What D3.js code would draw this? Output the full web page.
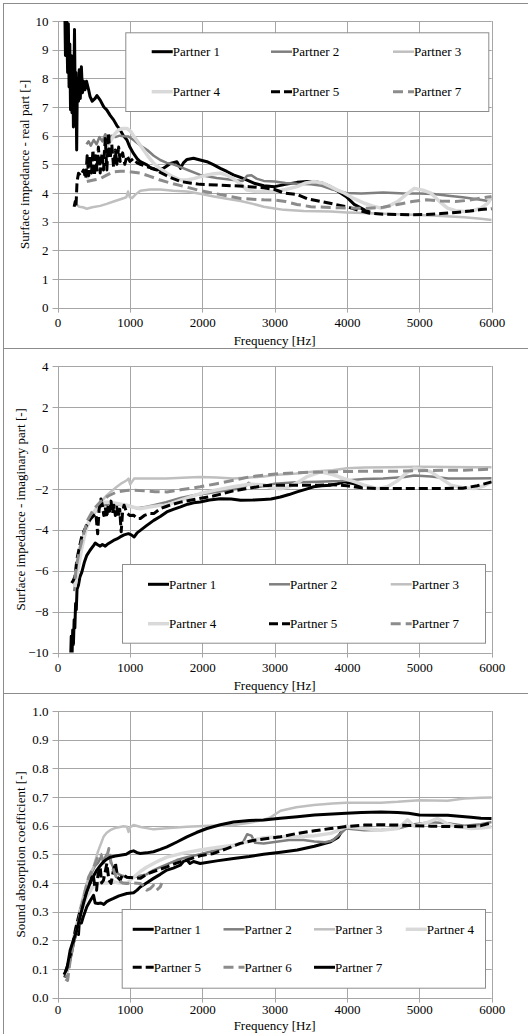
<!DOCTYPE html>
<html>
<head>
<meta charset="utf-8">
<script src="https://cdn.jsdelivr.net/npm/d3@7/dist/d3.min.js"></script>
<style>
  body { margin: 0; background: #fff; }
</style>
</head>
<body>
<div id="chart"></div>
<script>
// tick values
const freqTicks = [0, 1000, 2000, 3000, 4000, 5000, 6000];
const realTicks = [0, 1, 2, 3, 4, 5, 6, 7, 8, 9, 10];
const imagTicks = [-10, -8, -6, -4, -2, 0, 2, 4];
const absTicks = [0, 0.1, 0.2, 0.3, 0.4, 0.5, 0.6, 0.7, 0.8, 0.9, 1.0];

// Surface impedance - real part  [frequency Hz, value]
const reP1 = [[100,10.6],[110,8.8],[125,10.2],[140,8.2],[150,9.9],[160,7.7],[170,9.2],[180,6.9],[190,8.8],[200,6.8],[210,8.6],[220,6.3],[235,9.7],[245,7.0],[255,8.2],[265,5.5],[275,8.0],[290,7.2],[300,8.3],[315,7.3],[330,8.4],[345,7.5],[360,7.9],[380,7.6],[400,7.9],[430,7.6],[450,7.36],[480,7.2],[520,7.3],[545,7.4],[590,7.24],[640,7.0],[680,6.9],[730,6.7],[775,6.55],[820,6.35],[866,6.2],[910,6.0],[960,5.85],[1000,5.6],[1050,5.38],[1100,5.2],[1145,5.09],[1235,4.98],[1300,4.85],[1375,4.8],[1465,4.86],[1560,5.03],[1650,5.09],[1700,4.86],[1740,5.05],[1790,5.17],[1880,5.21],[1970,5.15],[2065,5.09],[2160,4.98],[2250,4.86],[2340,4.75],[2430,4.63],[2520,4.55],[2620,4.45],[2730,4.33],[2850,4.25],[3000,4.22],[3150,4.3],[3310,4.37],[3450,4.4],[3540,4.4],[3650,4.35],[3775,4.22],[3880,4.05],[3990,3.87],[4100,3.6],[4240,3.41],[4320,3.33]];
const reP2 = [[400,5.7],[430,5.8],[460,5.65],[500,5.85],[540,5.7],[580,5.95],[620,5.8],[660,6.05],[700,5.9],[750,6.0],[800,5.95],[860,6.0],[920,5.98],[980,5.97],[1050,5.85],[1150,5.65],[1240,5.5],[1330,5.3],[1420,5.15],[1510,5.05],[1600,5.0],[1700,4.9],[1800,4.8],[1970,4.63],[2200,4.52],[2430,4.45],[2560,4.42],[2620,4.6],[2680,4.62],[2750,4.5],[2850,4.42],[3000,4.4],[3150,4.35],[3310,4.32],[3500,4.3],[3650,4.25],[3800,4.12],[3990,4.0],[4200,3.98],[4500,4.02],[4800,3.98],[5000,3.98],[5200,3.96],[5400,3.9],[5600,3.85],[5800,3.78],[5950,3.72],[6000,3.8]];
const reP3 = [[270,3.58],[300,3.52],[350,3.5],[405,3.45],[480,3.5],[590,3.55],[680,3.62],[775,3.7],[870,3.78],[950,3.85],[975,4.05],[1000,3.85],[1030,3.82],[1080,3.95],[1145,4.08],[1280,4.12],[1420,4.12],[1600,4.08],[1790,4.05],[1970,3.97],[2160,3.88],[2340,3.8],[2530,3.72],[2700,3.62],[2850,3.52],[3000,3.46],[3130,3.41],[3400,3.37],[3775,3.35],[4000,3.32],[4240,3.3],[4600,3.27],[4930,3.24],[5300,3.2],[5620,3.15],[5850,3.1],[6000,3.06]];
const reP4 = [[405,4.5],[470,4.75],[545,5.0],[590,5.2],[636,5.4],[680,5.6],[728,5.8],[790,6.05],[843,6.2],[900,6.25],[960,6.25],[1010,6.15],[1050,6.0],[1120,5.75],[1190,5.5],[1260,5.25],[1330,5.03],[1420,4.85],[1510,4.69],[1600,4.56],[1700,4.45],[1790,4.45],[1880,4.5],[1970,4.56],[2065,4.63],[2160,4.67],[2250,4.69],[2340,4.62],[2430,4.5],[2530,4.3],[2620,4.1],[2750,4.05],[2850,4.05],[3000,4.05],[3150,4.12],[3310,4.22],[3430,4.35],[3540,4.4],[3660,4.35],[3775,4.22],[3870,4.1],[3960,4.0],[4100,3.8],[4240,3.64],[4350,3.55],[4470,3.47],[4580,3.55],[4700,3.7],[4820,3.95],[4930,4.16],[5050,4.1],[5160,3.99],[5280,3.7],[5390,3.47],[5500,3.38],[5620,3.35],[5740,3.38],[5850,3.47],[5950,3.65],[6000,3.87]];
const reP5 = [[230,3.52],[245,3.7],[255,3.5],[270,4.4],[290,4.69],[320,4.6],[360,4.8],[390,4.5],[410,5.3],[430,4.6],[450,5.3],[470,4.7],[490,5.5],[510,4.6],[530,5.3],[545,4.8],[565,5.6],[590,4.7],[615,5.4],[636,4.8],[660,5.9],[682,4.8],[705,6.1],[728,5.2],[750,5.7],[775,4.9],[800,5.5],[820,5.0],[845,5.6],[866,5.1],[900,5.4],[930,5.0],[960,5.3],[1000,5.1],[1050,5.2],[1100,5.05],[1145,5.0],[1230,4.92],[1330,4.85],[1420,4.72],[1510,4.6],[1600,4.5],[1700,4.4],[1830,4.35],[1970,4.3],[2200,4.28],[2430,4.25],[2650,4.22],[2850,4.18],[3000,4.12],[3130,4.0],[3310,3.95],[3450,3.8],[3650,3.7],[3800,3.62],[4000,3.52],[4150,3.4],[4300,3.3],[4500,3.26],[4700,3.25],[4900,3.24],[5100,3.25],[5300,3.28],[5500,3.32],[5700,3.37],[5850,3.42],[6000,3.45]];
const reP7 = [[405,4.4],[500,4.45],[590,4.5],[680,4.62],[775,4.74],[870,4.76],[960,4.75],[1050,4.72],[1145,4.69],[1280,4.58],[1420,4.45],[1600,4.32],[1790,4.2],[1970,4.08],[2160,3.99],[2340,3.9],[2530,3.81],[2700,3.78],[2850,3.76],[3000,3.75],[3150,3.7],[3310,3.6],[3500,3.52],[3700,3.5],[3900,3.48],[4100,3.47],[4300,3.47],[4500,3.5],[4700,3.6],[4900,3.7],[5100,3.76],[5300,3.72],[5500,3.7],[5700,3.75],[5850,3.82],[6000,3.88]];

// Surface impedance - imaginary part
const imP1 = [[180,-10.5],[190,-9.2],[200,-10.3],[210,-8.9],[220,-9.6],[230,-8.4],[240,-8.8],[250,-7.6],[260,-7.9],[270,-6.9],[290,-6.7],[310,-6.3],[336,-6.07],[370,-5.6],[405,-5.25],[450,-5.0],[500,-4.76],[521,-4.65],[550,-4.72],[590,-4.8],[620,-4.72],[660,-4.8],[700,-4.68],[774,-4.52],[820,-4.45],[866,-4.35],[920,-4.25],[980,-4.19],[1020,-4.25],[1060,-4.35],[1100,-4.15],[1145,-4.03],[1230,-3.8],[1330,-3.54],[1420,-3.35],[1510,-3.13],[1600,-3.0],[1700,-2.88],[1800,-2.75],[1880,-2.68],[1970,-2.64],[2100,-2.55],[2250,-2.48],[2400,-2.5],[2530,-2.56],[2700,-2.55],[2850,-2.52],[2950,-2.5],[3080,-2.4],[3200,-2.28],[3310,-2.15],[3450,-2.0],[3540,-1.9],[3650,-1.85],[3775,-1.82],[3870,-1.75],[3960,-1.66],[4100,-1.75],[4200,-1.9]];
const imP2 = [[230,-7.0],[260,-6.2],[300,-5.2],[350,-4.4],[400,-3.9],[450,-3.5],[500,-3.2],[550,-3.0],[600,-2.85],[700,-2.75],[800,-2.75],[900,-2.8],[1000,-2.85],[1100,-2.95],[1200,-2.9],[1330,-2.8],[1500,-2.65],[1700,-2.45],[1900,-2.3],[2100,-2.2],[2300,-2.1],[2500,-2.0],[2580,-1.95],[2640,-1.7],[2700,-1.85],[2800,-1.9],[3000,-1.75],[3300,-1.68],[3600,-1.65],[3900,-1.62],[4240,-1.52],[4500,-1.5],[4800,-1.42],[4930,-1.35],[5160,-1.4],[5400,-1.5],[5700,-1.5],[6000,-1.48]];
const imP3 = [[230,-6.7],[260,-6.0],[300,-5.3],[350,-4.4],[405,-3.9],[470,-3.4],[544,-3.0],[610,-2.6],[682,-2.31],[750,-2.1],[820,-1.9],[890,-1.72],[959,-1.58],[982,-1.5],[1005,-1.78],[1030,-1.65],[1060,-1.5],[1200,-1.5],[1500,-1.5],[1800,-1.45],[1970,-1.42],[2200,-1.45],[2430,-1.5],[2650,-1.45],[2850,-1.4],[3000,-1.33],[3300,-1.25],[3550,-1.15],[3800,-1.09],[4000,-1.0],[4240,-0.96],[4600,-0.94],[5000,-0.92],[5400,-0.93],[5800,-0.94],[6000,-0.94]];
const imP4 = [[240,-6.8],[280,-6.0],[330,-5.0],[380,-4.2],[430,-3.6],[490,-3.2],[540,-2.95],[590,-2.8],[650,-2.65],[720,-2.65],[800,-2.7],[880,-2.75],[960,-2.8],[1050,-2.9],[1145,-2.97],[1250,-2.9],[1400,-2.82],[1510,-2.8],[1700,-2.55],[1970,-2.23],[2200,-2.05],[2430,-1.9],[2650,-1.78],[2850,-1.8],[2950,-1.95],[3080,-2.0],[3200,-1.9],[3314,-1.7],[3450,-1.4],[3637,-1.17],[3800,-1.3],[3960,-1.5],[4100,-1.65],[4240,-1.82],[4424,-1.99],[4560,-1.9],[4700,-1.6],[4830,-1.2],[4931,-1.0],[5050,-1.05],[5161,-1.17],[5300,-1.5],[5437,-1.82],[5600,-1.95],[5760,-1.99],[5900,-1.85],[6000,-1.66]];
const imP5 = [[195,-6.6],[215,-6.5],[240,-6.3],[270,-5.4],[300,-4.9],[330,-4.4],[360,-4.1],[400,-3.8],[450,-3.5],[500,-3.3],[530,-3.2],[555,-4.2],[575,-3.0],[600,-2.5],[620,-2.8],[640,-3.3],[660,-2.9],[680,-3.4],[700,-2.8],[720,-3.1],[740,-2.6],[760,-3.2],[780,-2.8],[800,-3.3],[820,-2.9],[840,-3.4],[860,-3.0],[880,-4.1],[900,-3.1],[920,-2.8],[960,-3.2],[1000,-3.3],[1050,-3.29],[1100,-3.45],[1145,-3.45],[1200,-3.3],[1280,-3.2],[1330,-3.21],[1420,-2.97],[1510,-2.85],[1600,-2.75],[1700,-2.65],[1850,-2.55],[2000,-2.45],[2150,-2.35],[2300,-2.22],[2430,-2.1],[2600,-2.0],[2850,-1.85],[3000,-1.82],[3300,-1.82],[3600,-1.82],[3800,-1.8],[4000,-1.85],[4200,-1.95],[4400,-1.99],[4700,-1.99],[5000,-1.99],[5300,-1.98],[5600,-1.97],[5800,-1.85],[6000,-1.66]];
const imP7 = [[240,-6.4],[270,-5.6],[310,-4.9],[360,-4.2],[420,-3.5],[500,-3.0],[590,-2.64],[700,-2.35],[820,-2.15],[950,-2.08],[1051,-2.07],[1200,-2.1],[1350,-2.14],[1512,-2.15],[1700,-2.05],[1972,-1.9],[2200,-1.75],[2433,-1.58],[2650,-1.42],[2848,-1.33],[3100,-1.25],[3400,-1.2],[3775,-1.17],[4200,-1.14],[4700,-1.14],[5200,-1.1],[5622,-1.09],[6000,-1.04]];

// Sound absorption coefficient
const abP1 = [[100,0.07],[140,0.1],[180,0.14],[220,0.19],[267,0.235],[290,0.22],[310,0.3],[330,0.26],[360,0.285],[405,0.317],[450,0.337],[498,0.357],[520,0.33],[560,0.328],[600,0.33],[640,0.325],[680,0.335],[720,0.34],[774,0.346],[850,0.355],[959,0.363],[1051,0.366],[1100,0.375],[1143,0.386],[1230,0.4],[1327,0.416],[1420,0.43],[1512,0.445],[1600,0.452],[1696,0.462],[1740,0.475],[1788,0.48],[1830,0.468],[1880,0.475],[1972,0.468],[2200,0.477],[2433,0.485],[2650,0.492],[2848,0.5],[3083,0.507],[3314,0.515],[3550,0.528],[3775,0.544],[3880,0.56],[3950,0.59],[4000,0.6]];
const abP2 = [[110,0.07],[160,0.12],[210,0.18],[260,0.23],[320,0.29],[380,0.36],[430,0.41],[480,0.44],[520,0.46],[560,0.47],[600,0.49],[640,0.48],[680,0.5],[720,0.485],[760,0.46],[800,0.44],[850,0.43],[900,0.425],[960,0.42],[1051,0.42],[1143,0.425],[1230,0.43],[1327,0.445],[1420,0.455],[1512,0.465],[1650,0.48],[1788,0.49],[1972,0.5],[2200,0.515],[2433,0.53],[2560,0.54],[2620,0.57],[2680,0.565],[2730,0.54],[2848,0.538],[3000,0.543],[3200,0.55],[3400,0.55],[3550,0.545],[3700,0.542],[3800,0.548],[3900,0.57],[3987,0.59],[4240,0.584],[4470,0.585],[4700,0.59],[4930,0.605],[5161,0.612],[5391,0.608],[5622,0.6],[5850,0.605],[6000,0.613]];
const abP3 = [[90,0.08],[130,0.1],[180,0.16],[230,0.22],[267,0.26],[330,0.33],[405,0.4],[450,0.43],[498,0.456],[560,0.51],[636,0.561],[680,0.575],[728,0.584],[800,0.592],[912,0.598],[960,0.596],[982,0.578],[1005,0.595],[1051,0.602],[1150,0.595],[1327,0.587],[1550,0.592],[1788,0.596],[2100,0.6],[2433,0.602],[2650,0.61],[2848,0.62],[2950,0.63],[3083,0.652],[3300,0.664],[3544,0.672],[3800,0.677],[3987,0.68],[4200,0.68],[4470,0.68],[4700,0.683],[5000,0.689],[5200,0.688],[5391,0.687],[5622,0.695],[5850,0.697],[6000,0.698]];
const abP4 = [[120,0.08],[170,0.14],[220,0.2],[270,0.25],[330,0.3],[400,0.35],[470,0.38],[540,0.4],[600,0.4],[680,0.4],[760,0.405],[850,0.4],[960,0.4],[1051,0.42],[1143,0.44],[1230,0.455],[1327,0.468],[1420,0.48],[1512,0.49],[1750,0.505],[1972,0.515],[2200,0.524],[2433,0.532],[2650,0.545],[2848,0.558],[3083,0.561],[3314,0.561],[3550,0.565],[3775,0.573],[3900,0.585],[3987,0.596],[4240,0.59],[4470,0.584],[4700,0.59],[4839,0.62],[4930,0.598],[5000,0.603],[5100,0.61],[5253,0.625],[5400,0.605],[5500,0.598],[5714,0.59],[5850,0.592],[6000,0.596]];
const abP5 = [[110,0.09],[150,0.12],[200,0.17],[250,0.24],[300,0.29],[350,0.33],[400,0.37],[450,0.4],[480,0.43],[498,0.42],[520,0.38],[540,0.375],[560,0.43],[590,0.456],[610,0.4],[636,0.41],[660,0.44],[682,0.468],[710,0.41],[740,0.398],[770,0.44],[800,0.47],[830,0.42],[866,0.41],[900,0.43],[959,0.42],[1050,0.418],[1143,0.416],[1230,0.43],[1327,0.44],[1420,0.448],[1512,0.456],[1650,0.47],[1788,0.48],[1970,0.495],[2157,0.503],[2340,0.52],[2525,0.538],[2700,0.548],[2848,0.553],[3083,0.561],[3314,0.573],[3550,0.582],[3775,0.59],[4000,0.597],[4240,0.602],[4470,0.603],[4700,0.602],[4930,0.6],[5161,0.598],[5400,0.597],[5622,0.596],[5850,0.6],[6000,0.61]];
const abP6 = [[110,0.065],[140,0.06],[170,0.12],[220,0.19],[270,0.24],[320,0.3],[380,0.37],[430,0.42],[470,0.44],[510,0.46],[540,0.48],[570,0.5],[600,0.5],[640,0.47],[680,0.49],[710,0.52],[740,0.47],[780,0.44],[830,0.41],[900,0.4],[959,0.398],[1050,0.4],[1143,0.398],[1200,0.39],[1235,0.375],[1280,0.38],[1327,0.392],[1370,0.375],[1420,0.386],[1440,0.4]];
const abP7 = [[90,0.08],[130,0.1],[175,0.165],[220,0.2],[267,0.235],[310,0.28],[360,0.33],[405,0.37],[452,0.4],[500,0.425],[544,0.445],[590,0.46],[636,0.474],[682,0.483],[728,0.49],[800,0.494],[866,0.497],[950,0.5],[1005,0.509],[1051,0.512],[1100,0.506],[1143,0.503],[1230,0.505],[1327,0.509],[1420,0.517],[1512,0.526],[1650,0.543],[1788,0.561],[1920,0.576],[2065,0.59],[2250,0.603],[2433,0.613],[2650,0.618],[2848,0.62],[3080,0.626],[3314,0.631],[3550,0.637],[3800,0.641],[3987,0.643],[4200,0.646],[4470,0.648],[4700,0.646],[4850,0.643],[5000,0.637],[5200,0.636],[5391,0.636],[5550,0.633],[5714,0.629],[5850,0.626],[6000,0.625]];

// line styles
const st = {
    black:   { color: "#000000", width: 3,   dash: null },
    dark:    { color: "#7f7f7f", width: 2.5, dash: null },
    light:   { color: "#bfbfbf", width: 2.5, dash: null },
    pale:    { color: "#d9d9d9", width: 3.5, dash: null },
    blackDash: { color: "#000000", width: 3, dash: "9,4" },
    grayDash:  { color: "#8c8c8c", width: 3, dash: "10,5" }
};

const FONT = "'Liberation Serif', 'Times New Roman', 'DejaVu Serif', serif";
const svgWidth = 528, svgHeight = 1034;
const left = 57.5, right = 491.7;
const plotTop = 18, plotHeight = 286.6;

const panels = [
    {
        top: 3, domain: [0, 10], ticks: realTicks, fmt: d3.format("d"),
        title: "Surface impedance - real part [-]", titleX: 24,
        series: [
            { name: "Partner 1", data: reP1, s: st.black },
            { name: "Partner 2", data: reP2, s: st.dark },
            { name: "Partner 3", data: reP3, s: st.light },
            { name: "Partner 4", data: reP4, s: st.pale },
            { name: "Partner 5", data: reP5, s: st.blackDash },
            { name: "Partner 7", data: reP7, s: st.grayDash }
        ],
        legend: { x: 125.3, y: 32.3, w: 363, h: 78.7, rows: [51.7, 91.7], cols: [151.7, 271, 393] }
    },
    {
        top: 348, domain: [-10, 4], ticks: imagTicks, fmt: d3.format("d"),
        title: "Surface impedance - imaginary part [-]", titleX: 20,
        series: [
            { name: "Partner 1", data: imP1, s: st.black },
            { name: "Partner 2", data: imP2, s: st.dark },
            { name: "Partner 3", data: imP3, s: st.light },
            { name: "Partner 4", data: imP4, s: st.pale },
            { name: "Partner 5", data: imP5, s: st.blackDash },
            { name: "Partner 7", data: imP7, s: st.grayDash }
        ],
        legend: { x: 122, y: 564, w: 363, h: 78.7, rows: [584.3, 623.7], cols: [148, 269, 390.7] }
    },
    {
        top: 693, domain: [0, 1], ticks: absTicks, fmt: d3.format(".1f"),
        title: "Sound absorption coefficient [-]", titleX: 20,
        series: [
            { name: "Partner 1", data: abP1, s: st.black },
            { name: "Partner 2", data: abP2, s: st.dark },
            { name: "Partner 3", data: abP3, s: st.light },
            { name: "Partner 4", data: abP4, s: st.pale },
            { name: "Partner 5", data: abP5, s: st.blackDash },
            { name: "Partner 6", data: abP6, s: st.grayDash },
            { name: "Partner 7", data: abP7, s: st.black }
        ],
        legend: { x: 121.7, y: 909, w: 363.3, h: 78.7, rows: [929.3, 967.3], cols: [132.7, 223.5, 314, 405.7] }
    }
];

let svg = d3.select("#chart").append("svg")
    .attr("width", svgWidth)
    .attr("height", svgHeight);

let x = d3.scaleLinear().domain([0, 6000]).range([left, right]);

function addText(sel) {
    return sel.append("text")
        .style("font-family", FONT)
        .style("font-size", "13px")
        .attr("fill", "#000");
}

panels.forEach((p, pi) => {
    let y0 = p.top + plotTop;
    let y = d3.scaleLinear().domain(p.domain).range([y0 + plotHeight, y0]);
    let last = pi === panels.length - 1;

    // chart frame
    svg.append("rect")
        .attr("x", 3.5).attr("y", p.top + 0.5)
        .attr("width", 540).attr("height", 345)
        .attr("fill", "none").attr("stroke", "#8c8c8c");

    // gridlines
    let grid = svg.append("g").attr("stroke", "#a6a6a6").attr("stroke-width", 1);
    grid.selectAll(".h").data(p.ticks).enter().append("line")
        .attr("x1", left - 5).attr("x2", right)
        .attr("y1", d => Math.round(y(d)) + 0.5).attr("y2", d => Math.round(y(d)) + 0.5);
    grid.selectAll(".v").data(freqTicks).enter().append("line")
        .attr("x1", d => Math.round(x(d)) + 0.5).attr("x2", d => Math.round(x(d)) + 0.5)
        .attr("y1", y0).attr("y2", y0 + plotHeight + 5);

    // axes labels
    let yAxis = d3.axisLeft(y).tickValues(p.ticks).tickFormat(p.fmt).tickSize(0).tickPadding(9);
    let gy = svg.append("g").attr("transform", `translate(${left},0)`).call(yAxis);
    let xAxis = d3.axisBottom(x).tickValues(freqTicks).tickFormat(d3.format("d"))
        .tickSize(0).tickPadding(last ? 7 : 10);
    let gx = svg.append("g").attr("transform", `translate(0,${y0 + plotHeight})`).call(xAxis);
    [gx, gy].forEach(g => {
        g.select(".domain").remove();
        g.selectAll("text")
            .style("font-family", FONT)
            .style("font-size", "13px")
            .attr("fill", "#000");
    });

    addText(svg)
        .attr("x", (left + right) / 2)
        .attr("y", y0 + plotHeight + (last ? 28 : 33))
        .attr("dy", "0.35em")
        .attr("text-anchor", "middle")
        .text("Frequency [Hz]");

    addText(svg)
        .attr("transform", `translate(${p.titleX},${y0 + plotHeight / 2}) rotate(-90)`)
        .attr("dy", "0.35em")
        .attr("text-anchor", "middle")
        .text(p.title);

    // series
    svg.append("clipPath").attr("id", "clip" + pi)
        .append("rect")
        .attr("x", left).attr("y", y0)
        .attr("width", right - left).attr("height", plotHeight);

    let line = d3.line().x(d => x(d[0])).y(d => y(d[1]));
    let lines = svg.append("g").attr("clip-path", `url(#clip${pi})`);
    p.series.forEach(s => {
        lines.append("path")
            .attr("d", line(s.data))
            .attr("fill", "none")
            .attr("stroke", s.s.color)
            .attr("stroke-width", s.s.width)
            .attr("stroke-dasharray", s.s.dash)
            .attr("stroke-linejoin", "round");
    });

    // legend
    let L = p.legend;
    svg.append("rect")
        .attr("x", L.x + 0.5).attr("y", L.y + 0.5)
        .attr("width", L.w).attr("height", L.h)
        .attr("fill", "#fff").attr("stroke", "#8c8c8c");
    let nc = L.cols.length;
    p.series.forEach((s, i) => {
        let lx = L.cols[i % nc], ly = L.rows[Math.floor(i / nc)];
        svg.append("line")
            .attr("x1", lx).attr("x2", lx + 21)
            .attr("y1", ly).attr("y2", ly)
            .attr("stroke", s.s.color)
            .attr("stroke-width", s.s.width)
            .attr("stroke-dasharray", s.s.dash);
        addText(svg)
            .attr("x", lx + 21).attr("y", ly)
            .attr("dy", "0.35em")
            .text(s.name);
    });
});
</script>
</body>
</html>
